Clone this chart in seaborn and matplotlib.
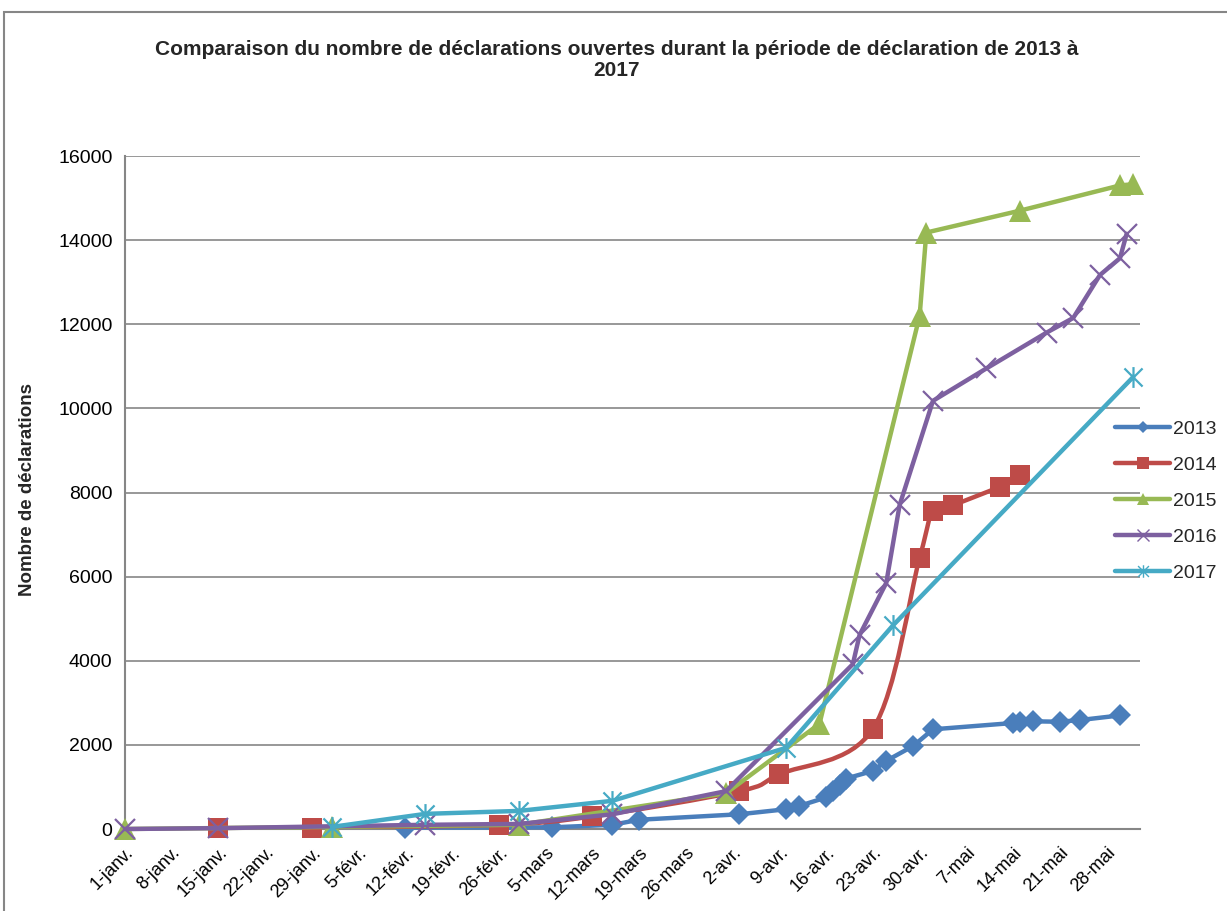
import matplotlib
matplotlib.use('Agg')
import matplotlib.pyplot as plt
import matplotlib.dates as mdates
from matplotlib.path import Path
from matplotlib.patches import PathPatch, Rectangle
from matplotlib.lines import Line2D
import pandas as pd
import seaborn as sns

# Data (dates on a common year axis)
dates_2013 = ['01-02-12', '01-03-06', '01-03-15', '01-03-19', '01-04-03', '01-04-10', '01-04-12',
              '01-04-16', '01-04-17', '01-04-18', '01-04-19', '01-04-23', '01-04-25', '01-04-29',
              '01-05-02', '01-05-14', '01-05-15', '01-05-17', '01-05-21', '01-05-24', '01-05-30']
vals_2013 = [30, 40, 100, 220, 350, 470, 550, 750, 900, 1050, 1200, 1380, 1620, 1970,
             2370, 2520, 2540, 2560, 2550, 2590, 2700]

dates_2014 = ['01-01-15', '01-01-29', '01-02-26', '01-03-12', '01-04-03', '01-04-09', '01-04-23',
              '01-04-30', '01-05-02', '01-05-05', '01-05-12', '01-05-15']
vals_2014 = [20, 30, 100, 300, 900, 1300, 2380, 6450, 7550, 7700, 8140, 8420]

dates_2015 = ['01-01-01', '01-02-01', '01-03-01', '01-04-01', '01-04-15', '01-04-30', '01-05-01',
              '01-05-15', '01-05-30', '01-06-01']
vals_2015 = [0, 50, 100, 850, 2500, 12200, 14180, 14700, 15300, 15330]

dates_2016 = ['01-01-01', '01-01-15', '01-02-15', '01-03-01', '01-03-15', '01-04-01', '01-04-20',
              '01-04-21', '01-04-25', '01-04-27', '01-05-02', '01-05-10', '01-05-19', '01-05-23',
              '01-05-27', '01-05-30', '01-05-31']
vals_2016 = [0, 20, 100, 120, 350, 900, 3920, 4610, 5850, 7700, 10180, 10950, 11800, 12150,
             13170, 13570, 14150]

dates_2017 = ['01-02-01', '01-02-15', '01-03-01', '01-03-15', '01-04-10', '01-04-26', '01-06-01']
vals_2017 = [50, 360, 430, 670, 1930, 4840, 10750]

tick_labels = ['1-janv.', '8-janv.', '15-janv.', '22-janv.', '29-janv.', '5-févr.', '12-févr.',
               '19-févr.', '26-févr.', '5-mars', '12-mars', '19-mars', '26-mars', '2-avr.',
               '9-avr.', '16-avr.', '23-avr.', '30-avr.', '7-mai', '14-mai', '21-mai', '28-mai']

colors = {'2013': '#4A7EBB', '2014': '#BE4B48', '2015': '#98B954',
          '2016': '#7D60A0', '2017': '#46AAC5'}


def to_dates(lst):
    return pd.to_datetime(['2017' + s[2:] for s in lst])


def smooth_path(xs, ys):
    # Catmull-Rom style bezier, like Excel's "smoothed line"
    pts = list(zip(xs, ys))
    n = len(pts)
    verts = [pts[0]]
    codes = [Path.MOVETO]
    for i in range(n - 1):
        p0 = pts[i - 1] if i > 0 else pts[i]
        p1 = pts[i]
        p2 = pts[i + 1]
        p3 = pts[i + 2] if i + 2 < n else pts[i + 1]
        c1 = (p1[0] + (p2[0] - p0[0]) / 6, p1[1] + (p2[1] - p0[1]) / 6)
        c2 = (p2[0] - (p3[0] - p1[0]) / 6, p2[1] - (p3[1] - p1[1]) / 6)
        verts += [c1, c2, p2]
        codes += [Path.CURVE4] * 3
    return Path(verts, codes)


sns.set_style('white')
plt.rcParams['font.family'] = ['Liberation Sans', 'DejaVu Sans']

fig = plt.figure(figsize=(12.27, 9.11), dpi=100)
ax = fig.add_axes([125 / 1227, 1 - 829 / 911, (1140 - 125) / 1227, (829 - 156) / 911])

grey = '#868686'
lw = 3.2

# asterisk marker (x plus vertical bar)
star = Path([(-1, -1), (1, 1), (-1, 1), (1, -1), (0, -1.15), (0, 1.15)],
            [Path.MOVETO, Path.LINETO] * 3)

sns.lineplot(x=to_dates(dates_2013), y=vals_2013, ax=ax, color=colors['2013'], linewidth=lw,
             marker='D', markersize=11, markeredgewidth=0, markeredgecolor=colors['2013'],
             legend=False, zorder=3, clip_on=False)

# 2014 is a smoothed line in the original
x14 = mdates.date2num(to_dates(dates_2014))
ax.add_patch(PathPatch(smooth_path(x14, vals_2014), facecolor='none', edgecolor=colors['2014'],
                       lw=lw, capstyle='round', joinstyle='round', zorder=4))
sns.scatterplot(x=to_dates(dates_2014), y=vals_2014, ax=ax, color=colors['2014'], marker='s',
                s=15 ** 2, linewidth=0, legend=False, zorder=4, clip_on=False)

sns.lineplot(x=to_dates(dates_2015), y=vals_2015, ax=ax, color=colors['2015'], linewidth=lw,
             marker='^', markersize=16, markeredgewidth=0, markeredgecolor=colors['2015'],
             legend=False, zorder=5, clip_on=False)
sns.lineplot(x=to_dates(dates_2016), y=vals_2016, ax=ax, color=colors['2016'], linewidth=lw,
             marker='x', markersize=14, markeredgewidth=1.6, markeredgecolor=colors['2016'],
             legend=False, zorder=6, clip_on=False)
sns.lineplot(x=to_dates(dates_2017), y=vals_2017, ax=ax, color=colors['2017'], linewidth=lw,
             marker=star, markersize=15, markeredgewidth=1.6, markerfacecolor='none',
             markeredgecolor=colors['2017'], legend=False, zorder=7, clip_on=False)

# axes
ticks = pd.date_range('2017-01-01', periods=len(tick_labels), freq='7D')
ax.set_xlim(pd.Timestamp('2017-01-01'), pd.Timestamp('2017-06-02'))
ax.set_xticks(ticks)
ax.set_xticklabels(tick_labels, rotation=45, ha='right', va='top', rotation_mode='anchor',
                   fontsize=13)
ax.set_ylim(0, 16000)
ax.set_yticks(range(0, 16001, 2000))
ax.set_yticklabels([str(v) for v in range(0, 16001, 2000)], fontsize=14)
ax.set_xlabel('')
ax.set_ylabel('')
ax.yaxis.grid(True, color=grey, linewidth=1.2)
ax.xaxis.grid(False)
ax.set_axisbelow(True)
for side in ['top', 'right']:
    ax.spines[side].set_visible(False)
for side in ['left', 'bottom']:
    ax.spines[side].set_color(grey)
    ax.spines[side].set_linewidth(1.5)
ax.tick_params(axis='both', direction='out', length=5, width=1.2, color=grey,
               labelcolor='black', pad=4)
ax.tick_params(axis='x', pad=6)

fig.text(617 / 1227, 1 - 60 / 911,
         'Comparaison du nombre de déclarations ouvertes durant la période de déclaration de 2013 à\n2017',
         ha='center', va='center', fontsize=15, fontweight='bold', linespacing=1.15)
fig.text(28 / 1227, 1 - 490 / 911, 'Nombre de déclarations', rotation=90, ha='center',
         va='center', fontsize=13.5, fontweight='bold')

# legend
handles = [
    Line2D([], [], color=colors['2013'], lw=lw, marker='D', markersize=6, markeredgewidth=0),
    Line2D([], [], color=colors['2014'], lw=lw, marker='s', markersize=9, markeredgewidth=0),
    Line2D([], [], color=colors['2015'], lw=lw, marker='^', markersize=9, markeredgewidth=0),
    Line2D([], [], color=colors['2016'], lw=lw, marker='x', markersize=9, markeredgewidth=1),
    Line2D([], [], color=colors['2017'], lw=lw, marker=star, markersize=9, markeredgewidth=1,
           markerfacecolor='none'),
]
fig.legend(handles, ['2013', '2014', '2015', '2016', '2017'], loc='upper left',
           bbox_to_anchor=(1115 / 1227, 1 - 420 / 911), frameon=False, fontsize=14,
           handlelength=2.85, handletextpad=0.15, labelspacing=0.95, borderpad=0, borderaxespad=0)

# chart border
fig.patches.append(Rectangle((4 / 1227, -0.1), 1.2, 1 - 12 / 911 + 0.1, transform=fig.transFigure,
                             fill=False, edgecolor=grey, linewidth=1.5))

fig.savefig('out.png', dpi=100)
